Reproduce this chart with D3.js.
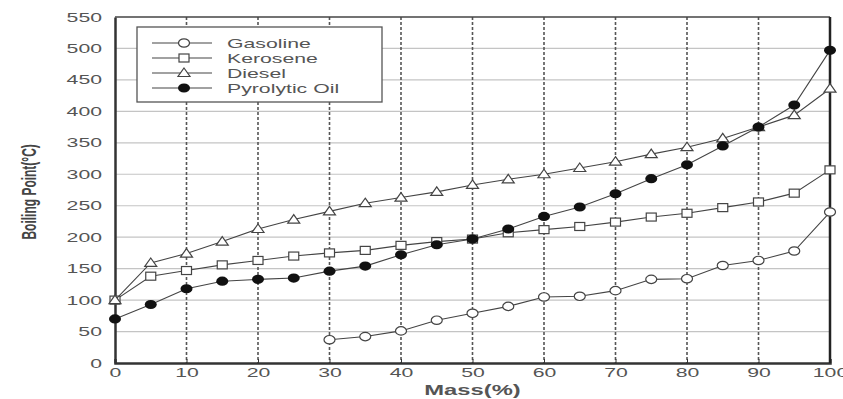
<!DOCTYPE html>
<html>
<head>
<meta charset="utf-8">
<script src="https://cdn.jsdelivr.net/npm/d3@7"></script>
<style>
  body { margin: 0; background: #fff; }
  svg { display: block; font-family: "Liberation Sans", Arial, sans-serif; }
</style>
</head>
<body>
<div id="chart"></div>
<script>
const width = 843,
      height = 399,
      margin = ({ top: 17, right: 13, bottom: 36, left: 115 }),
      stretch = 1.7; // the picture's text is squashed wide

// data
const gasolineMass = [30, 35, 40, 45, 50, 55, 60, 65, 70, 75, 80, 85, 90, 95, 100];
const gasolineBP   = [37, 42, 51, 68, 79, 90, 105, 106, 115, 133, 134, 155, 163, 178, 240];
const mass         = [0, 5, 10, 15, 20, 25, 30, 35, 40, 45, 50, 55, 60, 65, 70, 75, 80, 85, 90, 95, 100];
const keroseneBP   = [100, 138, 147, 156, 163, 170, 175, 179, 187, 193, 197, 207, 212, 217, 224, 232, 238, 247, 256, 270, 307];
const dieselBP     = [100, 159, 174, 193, 213, 228, 241, 254, 263, 272, 283, 292, 300, 310, 320, 332, 343, 357, 375, 394, 436];
const pyrolyticBP  = [70, 93, 118, 130, 133, 135, 146, 154, 172, 188, 197, 213, 233, 248, 269, 293, 315, 345, 375, 410, 497];
const xTicks = [0, 10, 20, 30, 40, 50, 60, 70, 80, 90, 100];
const yTicks = [0, 50, 100, 150, 200, 250, 300, 350, 400, 450, 500, 550];

const series = [
  { name: "Gasoline", x: gasolineMass, y: gasolineBP, marker: "circle" },
  { name: "Kerosene", x: mass, y: keroseneBP, marker: "square" },
  { name: "Diesel", x: mass, y: dieselBP, marker: "triangle" },
  { name: "Pyrolytic Oil", x: mass, y: pyrolyticBP, marker: "filled" }
];

const svg = d3.select("#chart")
  .append("svg")
  .attr("width", width)
  .attr("height", height);

let x = d3.scaleLinear()
  .domain([0, 100])
  .range([margin.left, width - margin.right]);

let y = d3.scaleLinear()
  .domain([0, 550])
  .range([height - margin.bottom, margin.top]);

// horizontal grid, light solid
svg.append("g")
  .selectAll("line")
  .data(yTicks.slice(1, -1))
  .join("line")
  .attr("x1", x(0)).attr("x2", x(100))
  .attr("y1", d => y(d)).attr("y2", d => y(d))
  .attr("stroke", "#c4c4c4")
  .attr("stroke-width", 1.2);

// vertical grid, dark dashed
svg.append("g")
  .selectAll("line")
  .data(xTicks.slice(1, -1))
  .join("line")
  .attr("x1", d => x(d)).attr("x2", d => x(d))
  .attr("y1", y(550)).attr("y2", y(0))
  .attr("stroke", "#555")
  .attr("stroke-width", 1.6)
  .attr("stroke-dasharray", "3,2");

// axes
svg.append("g")
  .attr("transform", `translate(0,${y(0)})`)
  .call(d3.axisBottom(x).tickValues(xTicks).tickSize(-4).tickPadding(5))
  .call(g => g.select(".domain").attr("stroke", "#333").attr("stroke-width", 2.5))
  .call(g => g.selectAll(".tick line").attr("stroke", "#333"))
  .call(g => g.selectAll("text")
    .attr("font-size", 12.5)
    .attr("fill", "#555")
    .attr("transform", `scale(${stretch},1)`));

svg.append("g")
  .attr("transform", `translate(${x(0)},0)`)
  .call(d3.axisLeft(y).tickValues(yTicks).tickSize(0))
  .call(g => g.select(".domain").attr("stroke", "#333").attr("stroke-width", 2.5))
  .call(g => g.selectAll("text")
    .attr("font-size", 12.5)
    .attr("fill", "#555")
    .attr("x", -13 / stretch)
    .attr("transform", `scale(${stretch},1)`));

// top and right frame
svg.append("line")
  .attr("x1", x(0)).attr("x2", x(100))
  .attr("y1", y(550)).attr("y2", y(550))
  .attr("stroke", "#444").attr("stroke-width", 1.5);
svg.append("line")
  .attr("x1", x(100)).attr("x2", x(100))
  .attr("y1", y(550)).attr("y2", y(0))
  .attr("stroke", "#222").attr("stroke-width", 2.5);

// axis titles
svg.append("text")
  .attr("transform", `translate(${x(50)},${height - 4}) scale(${stretch},1)`)
  .attr("text-anchor", "middle")
  .attr("font-size", 14)
  .attr("font-weight", "bold")
  .attr("fill", "#555")
  .text("Mass(%)");

svg.append("text")
  .attr("transform", `translate(36,${y(272)}) scale(${stretch},1) rotate(-90)`)
  .attr("text-anchor", "middle")
  .attr("font-size", 12)
  .attr("font-weight", "bold")
  .attr("fill", "#444")
  .text("Boiling Point(°C)");

function drawMarker(g, type, cx, cy) {
  if (type === "circle") {
    g.append("ellipse").attr("cx", cx).attr("cy", cy).attr("rx", 5.5).attr("ry", 4.2)
      .attr("fill", "#fff").attr("stroke", "#444").attr("stroke-width", 1.2);
  } else if (type === "square") {
    g.append("rect").attr("x", cx - 5).attr("y", cy - 4).attr("width", 10).attr("height", 8)
      .attr("fill", "#fff").attr("stroke", "#444").attr("stroke-width", 1.2);
  } else if (type === "triangle") {
    g.append("path")
      .attr("d", `M${cx},${cy - 5}L${cx + 6},${cy + 3.5}L${cx - 6},${cy + 3.5}Z`)
      .attr("fill", "#fff").attr("stroke", "#444").attr("stroke-width", 1.2);
  } else {
    g.append("ellipse").attr("cx", cx).attr("cy", cy).attr("rx", 6).attr("ry", 4.6)
      .attr("fill", "#111");
  }
}

const line = d3.line();

series.forEach(s => {
  let pts = s.x.map((d, i) => [x(d), y(s.y[i])]);
  let g = svg.append("g");
  g.append("path")
    .attr("d", line(pts))
    .attr("fill", "none")
    .attr("stroke", "#444")
    .attr("stroke-width", 1.1);
  pts.forEach(p => drawMarker(g, s.marker, p[0], p[1]));
});

// legend
const legend = svg.append("g");
legend.append("rect")
  .attr("x", 137).attr("y", 27)
  .attr("width", 245).attr("height", 75)
  .attr("fill", "#fff")
  .attr("stroke", "#555")
  .attr("stroke-width", 1.3);

series.forEach((s, i) => {
  let ly = 43 + i * 15;
  let g = legend.append("g");
  g.append("line")
    .attr("x1", 152).attr("x2", 212)
    .attr("y1", ly).attr("y2", ly)
    .attr("stroke", "#444").attr("stroke-width", 1.1);
  drawMarker(g, s.marker, 184, ly);
  g.append("text")
    .attr("transform", `translate(227,${ly + 4.5}) scale(${stretch},1)`)
    .attr("font-size", 12.5)
    .attr("fill", "#555")
    .text(s.name);
});
</script>
</body>
</html>
